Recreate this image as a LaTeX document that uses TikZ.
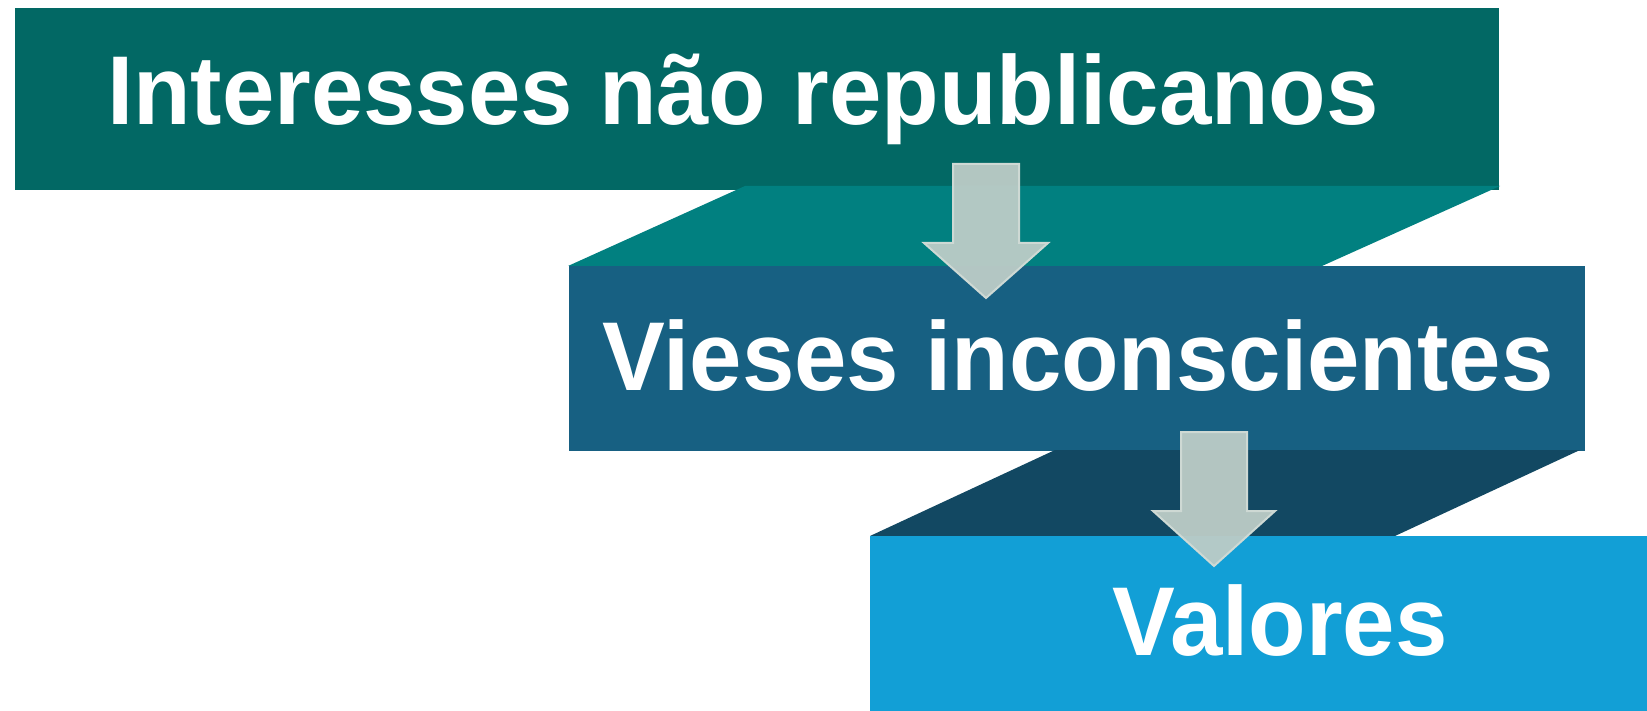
\documentclass[tikz,border=0pt]{standalone}
\usepackage{fontspec}
\setmainfont{Liberation Sans}
\newfontfamily\lblfont[FakeStretch=0.963]{Liberation Sans}
\definecolor{boxA}{RGB}{2,104,100}
\definecolor{trapA}{RGB}{1,128,128}
\definecolor{boxB}{RGB}{23,96,130}
\definecolor{trapB}{RGB}{18,72,98}
\definecolor{boxC}{RGB}{18,159,214}
\definecolor{arrowfill}{RGB}{188,204,199}
\definecolor{arrowedge}{RGB}{206,217,212}
\tikzset{
  lbl/.style={text=white, font=\lblfont\bfseries\fontsize{97.8}{110}\selectfont, inner sep=0pt, anchor=base},
  blockarrow/.style={fill=arrowfill, fill opacity=0.95, draw=arrowedge, line width=2pt, line join=miter}
}
\begin{document}
\begin{tikzpicture}[x=1pt,y=-1pt]
\useasboundingbox (0,0) rectangle (1647,711);
% boxes and connecting slabs
\fill[boxA] (15,8) rectangle (1499,190);
\fill[trapA] (745,186) -- (1500,186) -- (1322,266) -- (568,266) -- cycle;
\fill[boxB] (569,266) rectangle (1585,451);
\fill[trapB] (1055,450) -- (1580,450) -- (1395,536) -- (870,536) -- cycle;
\fill[boxC] (870,536) rectangle (1647,711);
% labels
\node[lbl] (t1) at (743,125) {Interesses não republicanos};
\node[lbl] (t2) at (1078,390) {Vieses inconscientes};
\node[lbl] (t3) at (1280,655) {Valores};
% block arrows
\draw[blockarrow] (953,164) -- (1019,164) -- (1019,243) -- (1048,243) -- (986,298) -- (924,243) -- (953,243) -- cycle;
\draw[blockarrow] (1181,432) -- (1247,432) -- (1247,511) -- (1275,511) -- (1214,566) -- (1153,511) -- (1181,511) -- cycle;
\end{tikzpicture}
\end{document}
